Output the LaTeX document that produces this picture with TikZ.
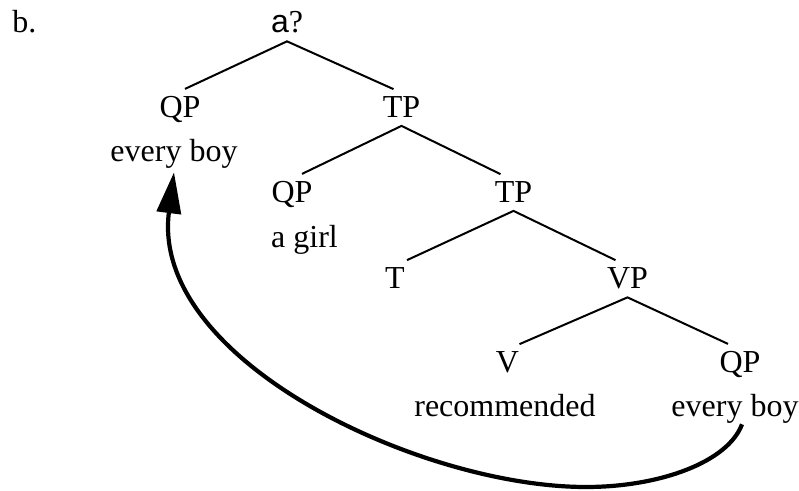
\documentclass[tikz,border=0pt]{standalone}
\usepackage{fontspec}
\setmainfont{Liberation Serif}
\newfontfamily\alphafont{Liberation Sans}
\usetikzlibrary{arrows.meta}
\tikzset{
  cat/.style={anchor=base, inner xsep=0pt, inner ysep=3.75pt, font=\fontsize{16}{19}\selectfont},
  word/.style={anchor=base, inner sep=0pt, font=\fontsize{16}{19}\selectfont},
  branch/.style={line width=1pt},
  movement/.style={line width=2.1pt, -{Triangle[length=20.5pt,width=12pt]}}
}
\begin{document}
\begin{tikzpicture}[x=0.5pt,y=-0.5pt]
  \useasboundingbox (0,0) rectangle (799,491);
  % example label and root
  \node[word, anchor=base west] (ex) at (12,33) {b.};
  \node[cat] (root) at (287,33) {{\alphafont a}?};
  % level 1
  \node[cat] (qpA) at (180,118) {QP};
  \node[word] (wordA) at (174,162) {every boy};
  \node[cat] (tpA) at (401.5,118) {TP};
  % level 2
  \node[cat] (qpB) at (292,203) {QP};
  \node[word] (wordB) at (304.5,248) {a girl};
  \node[cat] (tpB) at (513.5,203) {TP};
  % level 3
  \node[cat] (tHead) at (395,289) {T};
  \node[cat] (vp) at (627.5,289) {VP};
  % level 4
  \node[cat] (vHead) at (507.5,373) {V};
  \node[word] (wordV) at (505,417) {recommended};
  \node[cat] (qpC) at (740,373) {QP};
  \node[word] (wordC) at (735,417) {every boy};
  % branches
  \draw[branch] ([xshift=2.5pt]qpA.north) -- (root.south) -- ([xshift=-4pt]tpA.north);
  \draw[branch] ([xshift=5pt]qpB.north) -- (tpA.south) -- ([xshift=-6.5pt]tpB.north);
  \draw[branch] ([xshift=6pt]tHead.north) -- (tpB.south) -- ([xshift=-6pt]vp.north);
  \draw[branch] ([xshift=6pt]vHead.north) -- (vp.south) -- ([xshift=-6pt]qpC.north);
  % movement arrow
  \coordinate (low) at (586,487);
  \draw[movement] ([xshift=3.5pt]wordC.south) .. controls (728,462) and (660,487) .. (low)
    .. controls (420,487) and (150,360) .. ([yshift=-1.5pt]wordA.south);
\end{tikzpicture}
\end{document}
